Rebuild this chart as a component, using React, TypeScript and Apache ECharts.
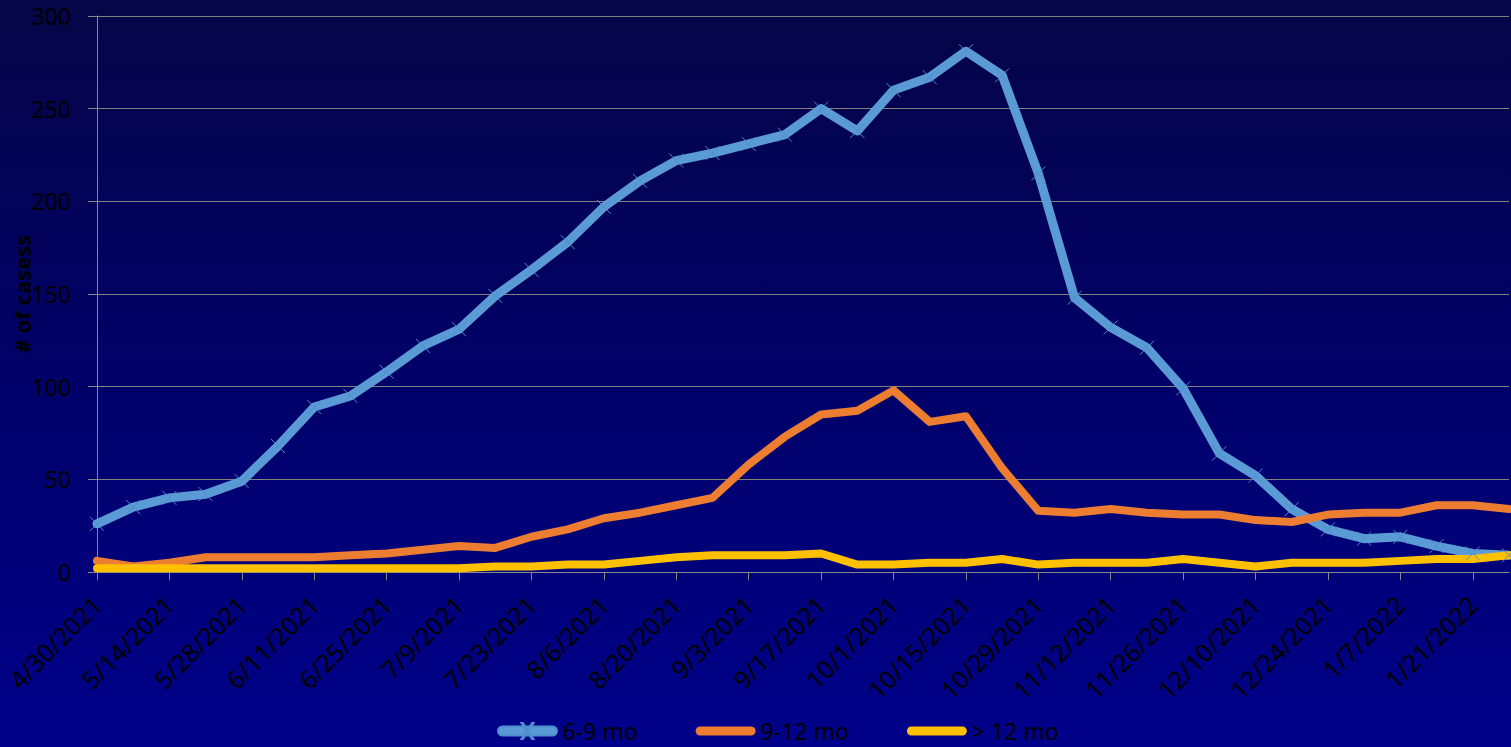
import React, { useEffect, useRef } from "react";
import * as echarts from "echarts";

const categories: string[] = [
  "4/30/2021", "5/7/2021", "5/14/2021", "5/21/2021", "5/28/2021", "6/4/2021", "6/11/2021", "6/18/2021",
  "6/25/2021", "7/2/2021", "7/9/2021", "7/16/2021", "7/23/2021", "7/30/2021", "8/6/2021", "8/13/2021",
  "8/20/2021", "8/27/2021", "9/3/2021", "9/10/2021", "9/17/2021", "9/24/2021", "10/1/2021", "10/8/2021",
  "10/15/2021", "10/22/2021", "10/29/2021", "11/5/2021", "11/12/2021", "11/19/2021", "11/26/2021", "12/3/2021",
  "12/10/2021", "12/17/2021", "12/24/2021", "12/31/2021", "1/7/2022", "1/14/2022", "1/21/2022", "1/28/2022",
];

const series6to9: number[] = [
  26, 35, 40, 42, 49, 68, 89, 95, 108, 122, 131, 149, 163, 178, 197, 211, 222, 226, 231, 236,
  250, 238, 260, 267, 281, 268, 215, 148, 132, 121, 99, 64, 52, 34, 23, 18, 19, 14, 10, 9,
];

const series9to12: number[] = [
  6, 3, 5, 8, 8, 8, 8, 9, 10, 12, 14, 13, 19, 23, 29, 32, 36, 40, 58, 73,
  85, 87, 98, 81, 84, 56, 33, 32, 34, 32, 31, 31, 28, 27, 31, 32, 32, 36, 36, 34,
];

const seriesOver12: number[] = [
  2, 2, 2, 2, 2, 2, 2, 2, 2, 2, 2, 3, 3, 4, 4, 6, 8, 9, 9, 9,
  10, 4, 4, 5, 5, 7, 4, 5, 5, 5, 7, 5, 3, 5, 5, 5, 6, 7, 7, 9,
];

const seriesNames: string[] = ["6-9 mo", "9-12 mo", "> 12 mo"];
const yTicks = { min: 0, max: 300, interval: 50 };

const FONT = "'Noto Sans', 'DejaVu Sans', sans-serif";

const ICON_X =
  "path://M5,3.5L55,3.5A4.5,4.5 0 0 1 55,12.5L5,12.5A4.5,4.5 0 0 1 5,3.5Z" +
  "M24,0L25.4,0L36,16L34.6,16Z M34.6,0L36,0L25.4,16L24,16Z";
const ICON_BAR = "path://M4.5,0L55.5,0A4.5,4.5 0 0 1 55.5,9L4.5,9A4.5,4.5 0 0 1 4.5,0Z";

export default function App() {
  const ref = useRef<HTMLDivElement>(null);

  useEffect(() => {
    if (!ref.current) return;
    const chart = echarts.init(ref.current, null, { renderer: "svg" });
    chart.setOption({
      animation: false,
      backgroundColor: {
        type: "linear",
        x: 0,
        y: 0,
        x2: 0,
        y2: 1,
        colorStops: [
          { offset: 0, color: "#050547" },
          { offset: 0.5, color: "#000068" },
          { offset: 1, color: "#00008a" },
        ],
      },
      grid: {
        left: 97,
        right: 2,
        top: 16,
        bottom: 175,
        containLabel: false,
        outerBoundsMode: "none",
      },
      legend: {
        left: 497,
        top: 718,
        padding: 0,
        itemWidth: 60,
        itemHeight: 16,
        itemGap: 58,
        symbolKeepAspect: true,
        textStyle: { color: "#000", fontSize: 23, fontFamily: FONT, lineHeight: 26 },
        data: [
          { name: seriesNames[0], icon: ICON_X },
          { name: seriesNames[1], icon: ICON_BAR },
          { name: seriesNames[2], icon: ICON_BAR },
        ],
      },
      xAxis: {
        type: "category",
        data: categories,
        boundaryGap: false,
        axisLine: { lineStyle: { color: "#888888", width: 1 } },
        axisTick: { show: true, interval: 1, length: 8, lineStyle: { color: "#888888" } },
        axisLabel: {
          interval: 1,
          rotate: 45,
          margin: 28,
          color: "#000",
          fontSize: 25,
          fontFamily: FONT,
        },
        splitLine: { show: false },
      },
      yAxis: {
        type: "value",
        min: yTicks.min,
        max: yTicks.max,
        interval: yTicks.interval,
        name: "# of casess",
        nameLocation: "middle",
        nameRotate: 90,
        nameGap: 64,
        nameMoveOverlap: false,
        nameTextStyle: { color: "#000", fontSize: 22, fontWeight: "bold", fontFamily: FONT },
        axisLine: { show: true, lineStyle: { color: "#888888", width: 1 } },
        axisTick: { show: true, length: 9, lineStyle: { color: "#888888" } },
        axisLabel: { color: "#000", fontSize: 23, fontFamily: FONT, margin: 26 },
        splitLine: { show: true, lineStyle: { color: "#82827c", width: 1 } },
      },
      series: [
        {
          name: seriesNames[0],
          type: "line",
          data: series6to9,
          symbol: "path://M0,0L10,10M10,0L0,10",
          symbolSize: 14,
          showSymbol: true,
          itemStyle: { color: "#5b9bd5", borderColor: "#4f8fd0", borderWidth: 1 },
          lineStyle: { color: "#5b9bd5", width: 9, join: "round", cap: "round" },
        },
        {
          name: seriesNames[1],
          type: "line",
          data: series9to12,
          symbol: "none",
          itemStyle: { color: "#ed7d31" },
          lineStyle: { color: "#ed7d31", width: 8, join: "round", cap: "round" },
        },
        {
          name: seriesNames[2],
          type: "line",
          data: seriesOver12,
          symbol: "none",
          itemStyle: { color: "#ffc000" },
          lineStyle: { color: "#ffc000", width: 8, join: "round", cap: "round" },
        },
      ],
    });
    return () => chart.dispose();
  }, []);

  return (
    <div
      ref={ref}
      style={{ position: "fixed", left: 0, top: 0, width: 1511, height: 747 }}
    />
  );
}
